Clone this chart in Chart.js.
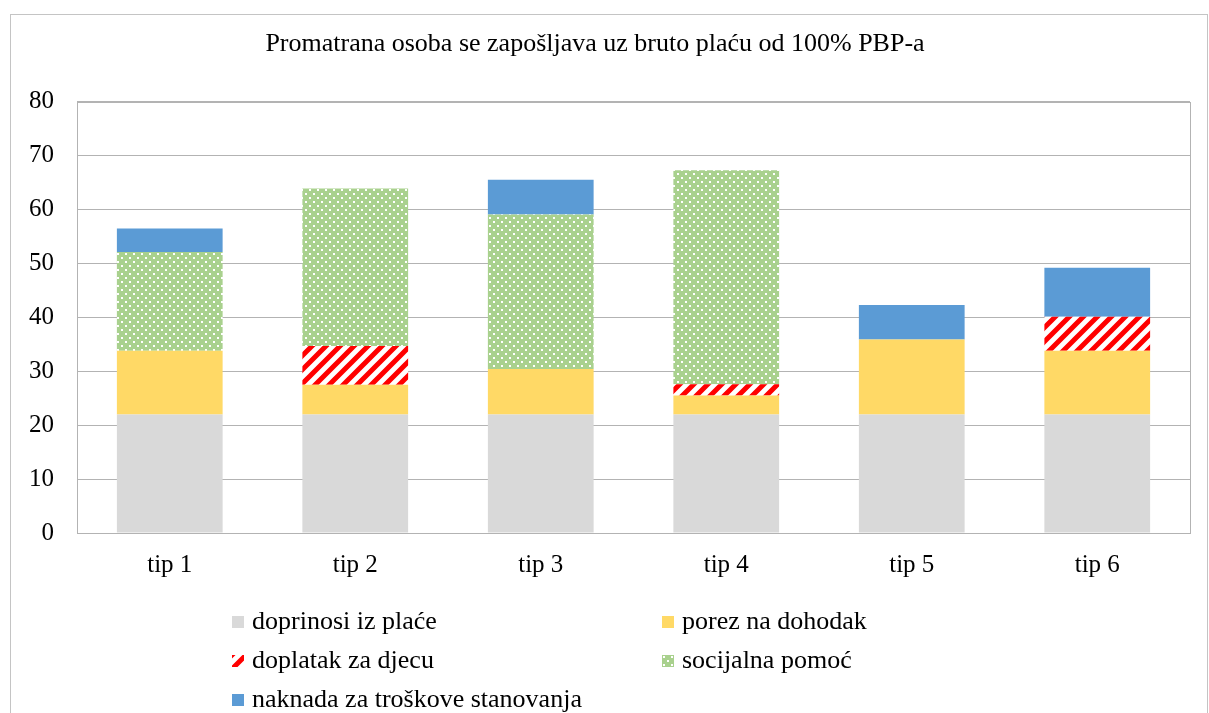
<!DOCTYPE html>
<html>
<head>
<meta charset="utf-8">
<title>Promatrana osoba</title>
<script src="https://cdn.jsdelivr.net/npm/chart.js@4"></script>
<style>
  body { margin: 0; background: #fff; font-family: "Liberation Serif", "Times New Roman", serif; }
  #wrap { position: relative; width: 1209px; height: 713px; overflow: hidden; }
  #frame { position: absolute; left: 10px; top: 14px; width: 1198px; height: 720px; border: 1px solid #c4c4c4; box-sizing: border-box; }
  #chart { position: absolute; left: 0; top: 0; }
  .swatch { position: absolute; }
  .legend-text { position: absolute; font-size: 26px; line-height: 30px; color: #000; white-space: nowrap; }
</style>
</head>
<body>
<div id="wrap">
  <div id="frame"></div>
  <canvas id="chart" width="1209" height="713"></canvas>
  <div id="legend"></div>
</div>
<script>
// data
const categories = ["tip 1", "tip 2", "tip 3", "tip 4", "tip 5", "tip 6"];
const doprinosi = [22, 22, 22, 22, 22, 22];
const porez = [11.8, 5.5, 8.4, 3.5, 13.9, 11.8];
const doplatak = [0, 7.2, 0, 2.1, 0, 6.3];
const socijalna = [18.3, 29.2, 28.7, 39.7, 0, 0];
const naknada = [4.4, 0, 6.4, 0, 6.4, 9.1];
const yTicks = [0, 10, 20, 30, 40, 50, 60, 70, 80];
const seriesNames = ["doprinosi iz plaće", "porez na dohodak", "doplatak za djecu", "socijalna pomoć", "naknada za troškove stanovanja"];

const FONT = "'Liberation Serif', 'Times New Roman', serif";

// red / white diagonal stripes
function stripeTile() {
  const c = document.createElement("canvas");
  c.width = 14; c.height = 14;
  const g = c.getContext("2d");
  g.fillStyle = "#ffffff";
  g.fillRect(0, 0, 14, 14);
  g.strokeStyle = "#ff0000";
  g.lineWidth = 5;
  g.beginPath();
  g.moveTo(-2, 16); g.lineTo(16, -2);
  g.moveTo(-9, 9); g.lineTo(9, -9);
  g.moveTo(5, 23); g.lineTo(23, 5);
  g.stroke();
  return c;
}

// green with small white dots
function dotTile() {
  const c = document.createElement("canvas");
  c.width = 8; c.height = 8;
  const g = c.getContext("2d");
  g.fillStyle = "#a9d18e";
  g.fillRect(0, 0, 8, 8);
  g.fillStyle = "#ffffff";
  g.fillRect(1, 1, 2, 2);
  g.fillRect(5, 5, 2, 2);
  return c;
}

const ctx = document.getElementById("chart").getContext("2d");
const stripes = ctx.createPattern(stripeTile(), "repeat");
const dots = ctx.createPattern(dotTile(), "repeat");

const fills = ["#d9d9d9", "#ffd966", stripes, dots, "#5b9bd5"];
const values = [doprinosi, porez, doplatak, socijalna, naknada];

// plot frame (right edge and top line)
const framePlugin = {
  id: "plotFrame",
  afterDraw(chart) {
    const a = chart.chartArea;
    const c = chart.ctx;
    c.save();
    c.strokeStyle = "#b3b3b3";
    c.lineWidth = 1;
    c.strokeRect(Math.round(a.left) + 0.5, Math.round(a.top) + 0.5, Math.round(a.right - a.left), Math.round(a.bottom - a.top));
    c.restore();
  }
};

const chart = new Chart(ctx, {
  type: "bar",
  data: {
    labels: categories,
    datasets: values.map((v, i) => ({
      label: seriesNames[i],
      data: v,
      backgroundColor: fills[i],
      borderWidth: 0,
      barPercentage: 0.57,
      categoryPercentage: 1.0
    }))
  },
  options: {
    responsive: false,
    animation: false,
    layout: { padding: { left: 0, right: 19, top: 0, bottom: 120 } },
    plugins: {
      legend: { display: false },
      tooltip: { enabled: false },
      title: {
        display: true,
        text: "Promatrana osoba se zapošljava uz bruto plaću od 100% PBP-a",
        color: "#000",
        font: { family: FONT, size: 26, weight: "normal" },
        padding: { top: 29, bottom: 41.5 }
      }
    },
    scales: {
      x: {
        stacked: true,
        grid: { display: false, drawTicks: false },
        border: { display: true, color: "#b3b3b3" },
        ticks: { color: "#000", font: { family: FONT, size: 25 }, padding: 17 },
        afterFit(scale) { scale.height = 60; }
      },
      y: {
        stacked: true,
        min: 0,
        max: 80,
        afterBuildTicks(scale) { scale.ticks = yTicks.map(v => ({ value: v })); },
        grid: { color: "#b3b3b3", drawTicks: false },
        border: { display: true, color: "#b3b3b3" },
        ticks: { color: "#000", font: { family: FONT, size: 25 }, padding: 23 },
        afterFit(scale) { scale.width = 77; }
      }
    }
  },
  plugins: [framePlugin]
});

// legend in two columns (swatch x, swatch top, text baseline)
const legend = document.getElementById("legend");
const legendPos = [[232, 616], [662, 616], [232, 655], [662, 655], [232, 694]];
chart.data.datasets.forEach((ds, i) => {
  const [x, y] = legendPos[i];
  const sw = document.createElement("canvas");
  sw.className = "swatch";
  sw.width = 12; sw.height = 12;
  sw.style.left = x + "px";
  sw.style.top = y + "px";
  const g = sw.getContext("2d");
  g.fillStyle = typeof ds.backgroundColor === "string" ? ds.backgroundColor
    : g.createPattern(i === 2 ? stripeTile() : dotTile(), "repeat");
  g.fillRect(0, 0, 12, 12);
  legend.appendChild(sw);

  const t = document.createElement("div");
  t.className = "legend-text";
  t.textContent = ds.label;
  t.style.left = (x + 20) + "px";
  t.style.top = (y - 10) + "px";
  legend.appendChild(t);
});
</script>
</body>
</html>
